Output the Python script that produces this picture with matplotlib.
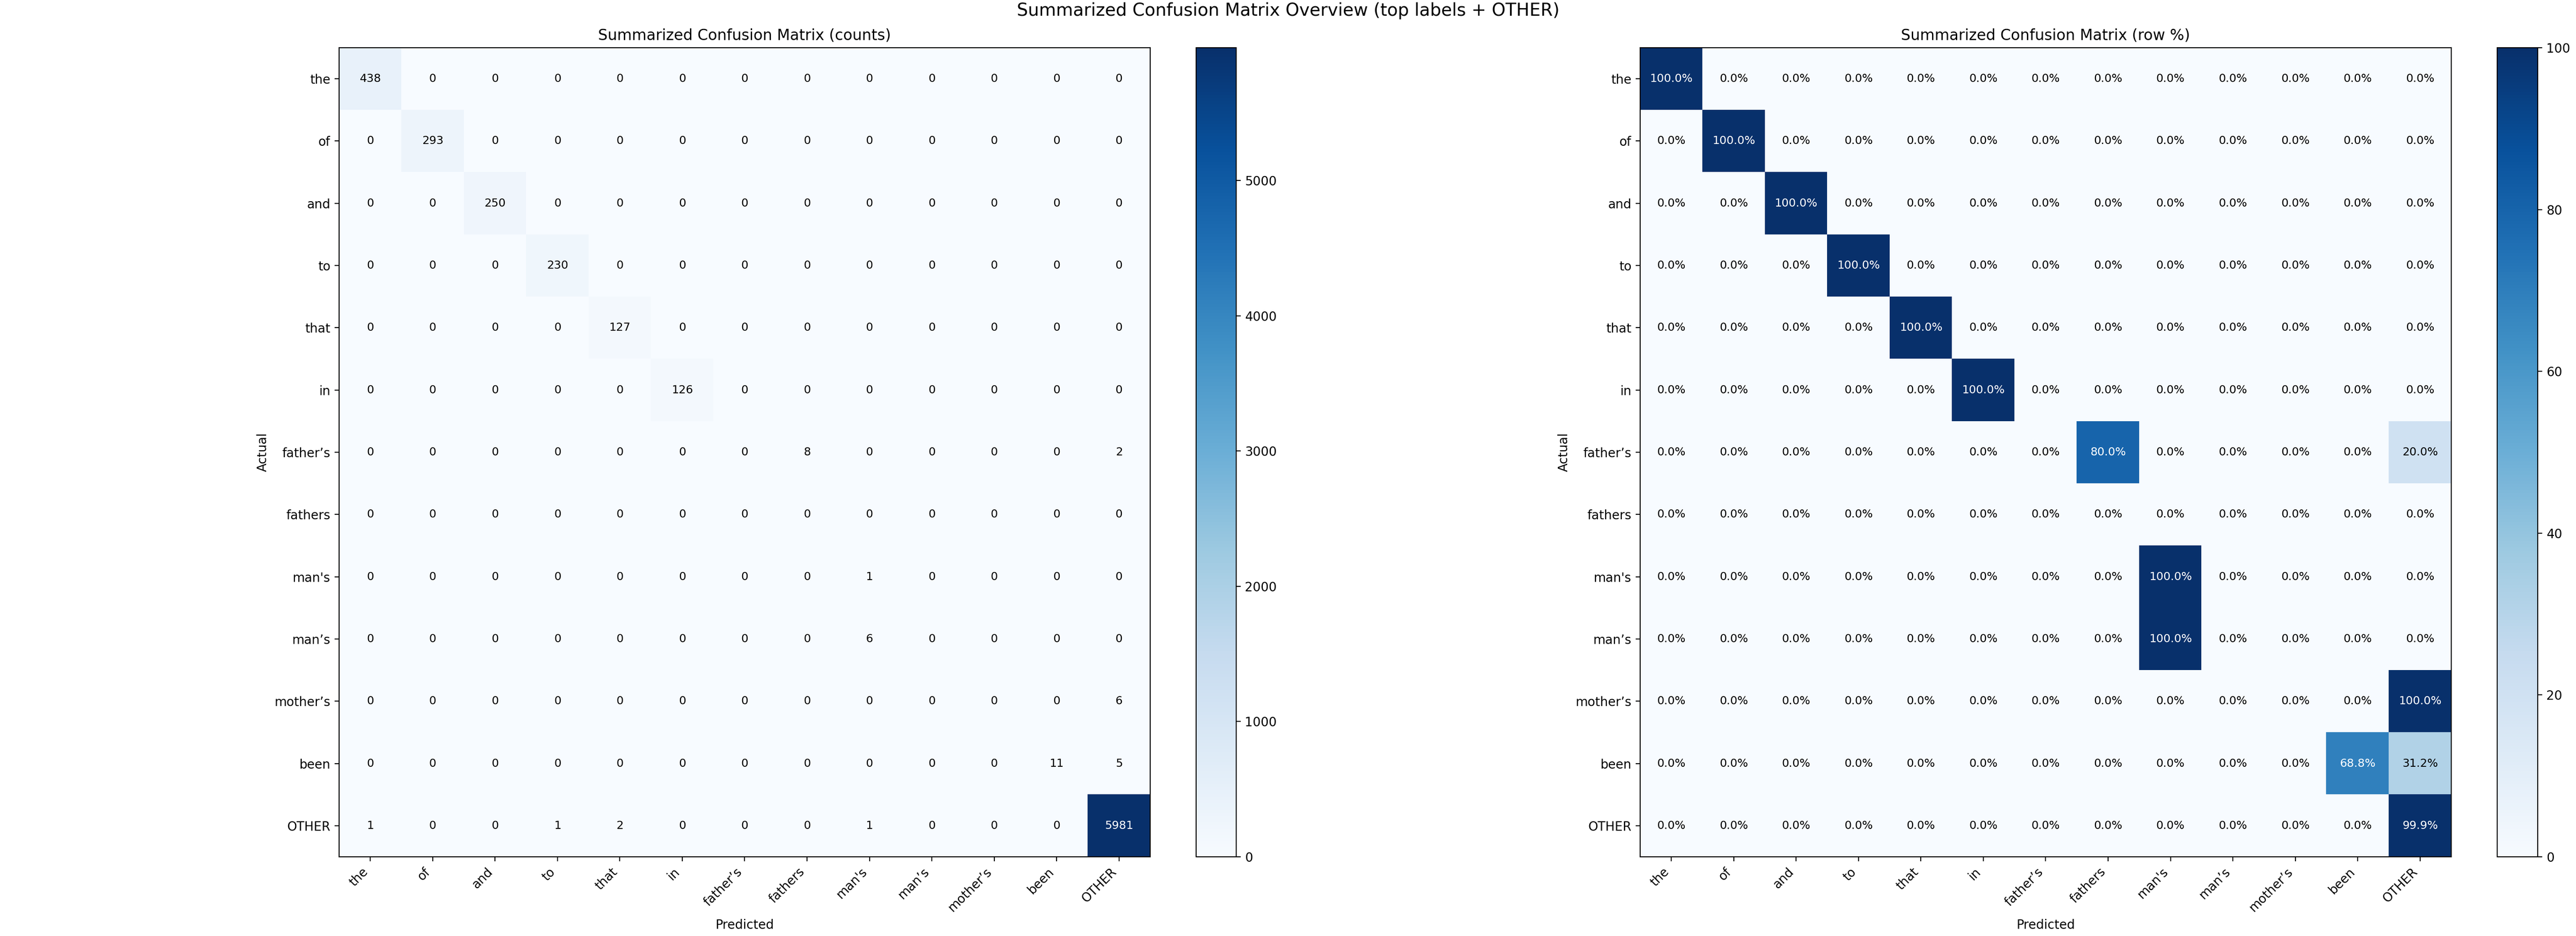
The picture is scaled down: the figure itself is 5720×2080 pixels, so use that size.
import numpy as np
import matplotlib.pyplot as plt

# top labels + OTHER bucket (note: straight vs curly apostrophes are different labels)
labels = ["the", "of", "and", "to", "that", "in", "father\u2019s", "fathers",
          "man's", "man\u2019s", "mother\u2019s", "been", "OTHER"]

# rows = actual, cols = predicted
counts = np.array([
    [438, 0, 0, 0, 0, 0, 0, 0, 0, 0, 0, 0, 0],
    [0, 293, 0, 0, 0, 0, 0, 0, 0, 0, 0, 0, 0],
    [0, 0, 250, 0, 0, 0, 0, 0, 0, 0, 0, 0, 0],
    [0, 0, 0, 230, 0, 0, 0, 0, 0, 0, 0, 0, 0],
    [0, 0, 0, 0, 127, 0, 0, 0, 0, 0, 0, 0, 0],
    [0, 0, 0, 0, 0, 126, 0, 0, 0, 0, 0, 0, 0],
    [0, 0, 0, 0, 0, 0, 0, 8, 0, 0, 0, 0, 2],
    [0, 0, 0, 0, 0, 0, 0, 0, 0, 0, 0, 0, 0],
    [0, 0, 0, 0, 0, 0, 0, 0, 1, 0, 0, 0, 0],
    [0, 0, 0, 0, 0, 0, 0, 0, 6, 0, 0, 0, 0],
    [0, 0, 0, 0, 0, 0, 0, 0, 0, 0, 0, 0, 6],
    [0, 0, 0, 0, 0, 0, 0, 0, 0, 0, 0, 11, 5],
    [1, 0, 0, 1, 2, 0, 0, 0, 1, 0, 0, 0, 5981],
])

# row-normalised percentages, empty rows stay at 0
row_sums = counts.sum(axis=1, keepdims=True)
pct = np.divide(counts * 100.0, row_sums, out=np.zeros(counts.shape), where=row_sums > 0)

fig = plt.figure(figsize=(28.6, 10.4), dpi=200)

# ============================================================================
# panels
# ============================================================================

panels = [
    (counts, "Summarized Confusion Matrix (counts)", lambda v: f"{int(v)}",
     [0.13164, 0.08462, 0.31486, 0.86442], [0.46434, 0.08462, 0.01556, 0.86442]),
    (pct, "Summarized Confusion Matrix (row %)", lambda v: f"{v:.1f}%",
     [0.63671, 0.08462, 0.31486, 0.86442], [0.96941, 0.08462, 0.01573, 0.86442]),
]

for mat, title, fmt, ax_pos, cb_pos in panels:
    ax = fig.add_axes(ax_pos)
    cax = fig.add_axes(cb_pos)
    im = ax.imshow(mat, cmap="Blues", interpolation="nearest", aspect="auto")
    fig.colorbar(im, cax=cax)

    ax.set_title(title, fontsize=12)
    ax.set_xticks(np.arange(len(labels)))
    ax.set_yticks(np.arange(len(labels)))
    ax.set_xticklabels(labels, rotation=45, ha="right")
    ax.set_yticklabels(labels)
    ax.set_xlabel("Predicted")
    ax.set_ylabel("Actual")

    thresh = mat.max() / 2.0
    for i in range(mat.shape[0]):
        for j in range(mat.shape[1]):
            ax.text(j, i, fmt(mat[i, j]), ha="center", va="center", fontsize=9,
                    color="white" if mat[i, j] > thresh else "black")

fig.suptitle("Summarized Confusion Matrix Overview (top labels + OTHER)",
             fontsize=14, y=0.9885, va="center")

fig.savefig("out.png", dpi=200)
